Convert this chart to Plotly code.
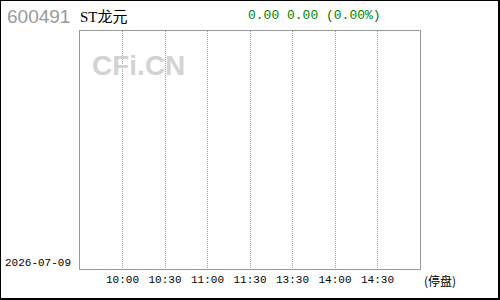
import plotly.graph_objects as go

# data
code = "600491"
name = "ST龙元"
quote_text = "0.00 0.00 (0.00%)"
date_text = "2026-07-09"
status_text = "(停盘)"
tick_pos = [1, 2, 3, 4, 5, 6, 7]
tick_labels = ["10:00", "10:30", "11:00", "11:30", "13:30", "14:00", "14:30"]
prices = []  # suspended: no trades
times = []

W, H = 500, 300
L, R, T, B = 80, 80, 31, 31
pw, ph = W - L - R, H - T - B

def px(x):
    return (x - L) / pw

def py(y):
    return (H - B - y) / ph

fig = go.Figure()
fig.add_trace(go.Scatter(x=times, y=prices, mode="lines", line=dict(color="#0000ff")))

fig.update_layout(
    width=W, height=H,
    margin=dict(l=L, r=R, t=T, b=B, pad=0),
    paper_bgcolor="white", plot_bgcolor="white",
    showlegend=False,
    xaxis=dict(range=[0, 8], tickvals=tick_pos, ticktext=tick_labels,
               showgrid=True, gridcolor="#a0a0a0", griddash="1px,1px", gridwidth=1,
               showline=True, linecolor="#999999", linewidth=1, mirror=True,
               zeroline=False, ticks="", fixedrange=True,
               tickfont=dict(family="Liberation Mono", size=11, color="black")),
    yaxis=dict(range=[0, 1], showticklabels=False, showgrid=False,
               showline=True, linecolor="#999999", linewidth=1, mirror=True,
               zeroline=False, ticks="", fixedrange=True),
    shapes=[dict(type="rect", xref="paper", yref="paper",
                 x0=px(0), x1=px(499), y0=py(299), y1=py(0),
                 line=dict(color="black", width=2), fillcolor="rgba(0,0,0,0)")],
)

def ann(text, x, y, font, xanchor="left"):
    fig.add_annotation(text=text, xref="paper", yref="paper", x=px(x), y=py(y),
                       xanchor=xanchor, yanchor="middle", showarrow=False, font=font)

ann("<b>CFi.CN</b>", 138, 65, dict(family="Liberation Sans", size=28, color="#d3d3d3"), "center")
ann(code, 5, 17, dict(family="Liberation Sans", size=19, color="#9a9a9a"))
ann("<span style='font-family:Liberation Serif'>ST</span>龙元", 78, 15,
    dict(family="Noto Sans CJK SC", size=15, color="black"))
ann(quote_text, 246, 15, dict(family="Liberation Mono", size=13, color="#008000"))
ann(date_text, 3, 263, dict(family="Liberation Mono", size=11, color="black"))
ann(status_text, 422, 280, dict(family="Noto Sans CJK SC", size=12, color="black"))

fig.write_html("out.html")
